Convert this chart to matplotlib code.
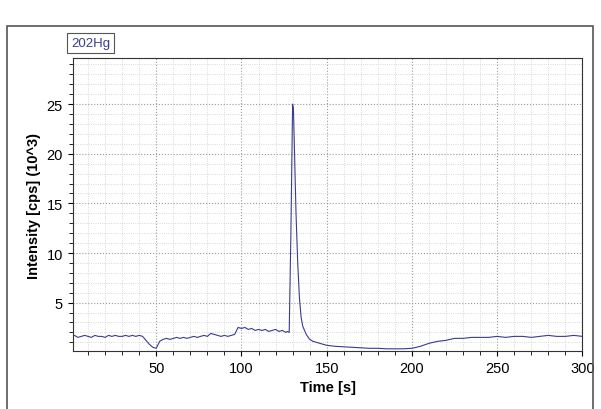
import matplotlib
matplotlib.use("Agg")
import matplotlib.pyplot as plt
from matplotlib.ticker import MultipleLocator
from matplotlib.patches import Rectangle

plt.rcParams['font.family'] = ['Liberation Sans', 'DejaVu Sans']

time = [0,2,4,6,8,10,12,14,16,18,20,22,24,26,28,30,32,34,36,38,40,
        42,44,46,48,50,52,54,56,58,60,62,64,66,68,70,72,74,76,78,80,
        82,84,86,88,90,92,94,96,98,100,102,104,106,108,110,112,114,116,118,120,
        122,124,126,127,128,129,130,130.5,131,132,133,134,135,136,138,140,
        142,144,146,148,150,155,160,165,170,175,180,185,190,195,200,
        205,210,215,220,225,230,235,240,245,250,255,260,265,270,275,280,285,290,295,300]
intensity = [1.6,1.7,1.5,1.6,1.7,1.6,1.5,1.7,1.6,1.6,1.5,1.7,1.6,1.7,1.6,1.6,1.7,1.6,1.7,1.6,1.7,
             1.6,1.2,0.8,0.5,0.4,1.1,1.3,1.4,1.3,1.4,1.5,1.4,1.5,1.4,1.5,1.6,1.5,1.6,1.7,1.6,
             1.9,1.8,1.7,1.6,1.7,1.6,1.7,1.8,2.5,2.4,2.5,2.3,2.4,2.2,2.3,2.2,2.3,2.1,2.2,2.3,
             2.1,2.2,2.0,2.1,2.0,12.0,25.0,24.5,21.0,14.0,9.0,5.5,3.5,2.6,1.8,1.3,
             1.1,1.0,0.9,0.8,0.7,0.6,0.55,0.5,0.45,0.4,0.4,0.35,0.35,0.35,0.4,
             0.6,0.9,1.1,1.2,1.4,1.4,1.5,1.5,1.5,1.6,1.5,1.6,1.6,1.5,1.6,1.7,1.6,1.6,1.7,1.6]

fig = plt.figure(figsize=(6.01, 4.10), dpi=100)
fig.patches.append(Rectangle((0.012, -0.01), 0.975, 0.945, transform=fig.transFigure,
                             fill=False, edgecolor="#555555", linewidth=1.2))
ax = fig.add_axes([0.121, 0.142, 0.848, 0.713])
ax.plot(time, intensity, color="#3b3b8f", linewidth=0.8)
ax.set_xlim(1, 300)
ax.set_ylim(0.15, 29.6)
ax.xaxis.set_minor_locator(MultipleLocator(10))
ax.yaxis.set_minor_locator(MultipleLocator(1))
ax.set_xticks([50,100,150,200,250,300])
ax.set_yticks([5,10,15,20,25])
ax.grid(which="major", linestyle=":", color="#999999", linewidth=0.8)
ax.grid(which="minor", linestyle=":", color="#cccccc", linewidth=0.6)
ax.tick_params(which="both", direction="out", labelsize=10.5)
ax.tick_params(which="minor", length=3)
for s in ax.spines.values():
    s.set_color("#333333")
ax.set_xlabel("Time [s]", fontweight="bold", fontsize=10.5)
ax.set_ylabel("Intensity [cps] (10^3)", fontweight="bold", fontsize=10.5)
fig.text(0.118, 0.893, "202Hg", fontsize=9.5, color="#3b3b8f", va="center",
         bbox=dict(boxstyle="square,pad=0.3", facecolor="white", edgecolor="#555555", linewidth=0.8))
fig.savefig("out.png", dpi=100)
